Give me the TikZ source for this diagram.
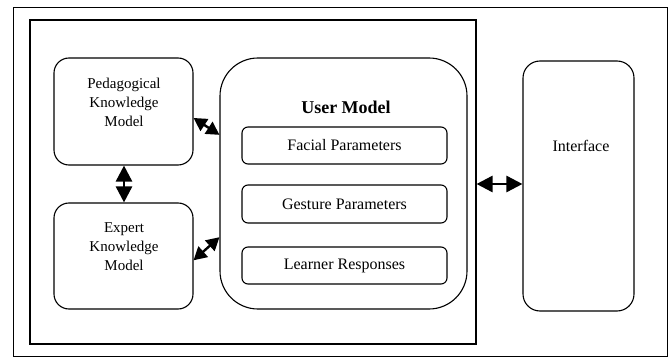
\documentclass[tikz,border=0pt]{standalone}
\usepackage{fontspec}
\setmainfont{Liberation Serif}
\usetikzlibrary{arrows.meta,calc}
\tikzset{
  box/.style={draw, line width=1.1pt, rounded corners=15pt, inner sep=0pt},
  label/.style={align=center, font=\fontsize{15}{19}\selectfont},
  param/.style={draw, line width=1.1pt, rounded corners=6pt, inner sep=0pt,
    minimum width=205pt, minimum height=37pt, font=\fontsize{16}{19}\selectfont},
  link/.style={line width=2.6pt, {Triangle[length=16pt,width=16pt]}-{Triangle[length=16pt,width=16pt]}},
  slant/.style={line width=2.4pt, {Triangle[length=13pt,width=14pt]}-{Triangle[length=13pt,width=14pt]}},
}
\begin{document}
\begin{tikzpicture}[x=1pt,y=-1pt]
\useasboundingbox (0,0) rectangle (672,358);
% frames
\node[draw, line width=0.9pt, minimum width=654pt, minimum height=349pt, inner sep=0pt] (outer) at (340,181.5) {};
\node[draw, line width=1.1pt, minimum width=446pt, minimum height=324pt, inner sep=0pt] (inner) at (253,182) {};
% knowledge models
\node[box, minimum width=139pt, minimum height=107pt] (ped) at (123.5,111.5) {};
\node[label] (pedtext) at (124,102.5) {Pedagogical\\Knowledge\\Model};
\node[box, minimum width=139pt, minimum height=106pt] (exp) at (123.5,256) {};
\node[label] (exptext) at (124,247) {Expert\\Knowledge\\Model};
% user model
\node[box, rounded corners=38pt, minimum width=247pt, minimum height=251pt] (um) at (343.5,183.5) {};
\node[font=\fontsize{18}{21}\selectfont\bfseries] (umtitle) at (346,107) {User Model};
\node[param] (facial) at (344.5,145.5) {Facial Parameters};
\node[param, minimum height=38pt] (gesture) at (344.5,204) {Gesture Parameters};
\node[param] (learner) at (344.5,265.5) {Learner Responses};
% interface
\node[draw, line width=1.1pt, rounded corners=17pt, minimum width=111pt, minimum height=250pt, inner sep=0pt] (iface) at (578.5,186) {};
\node[font=\fontsize{16}{19}\selectfont] (ifacetext) at (581,146) {Interface};
% connectors
\draw[link] (ped.south -| pedtext) -- (exp.north -| pedtext);
\draw[slant] ($(ped.north east)!0.56!(ped.south east)$) -- ($(um.north west)!0.307!(um.south west)$);
\draw[slant] ($(exp.north east)!0.54!(exp.south east)$) -- ($(um.north west)!0.713!(um.south west)$);
\draw[link] (inner.east |- 0,184) -- (iface.west |- 0,184);
\end{tikzpicture}
\end{document}
